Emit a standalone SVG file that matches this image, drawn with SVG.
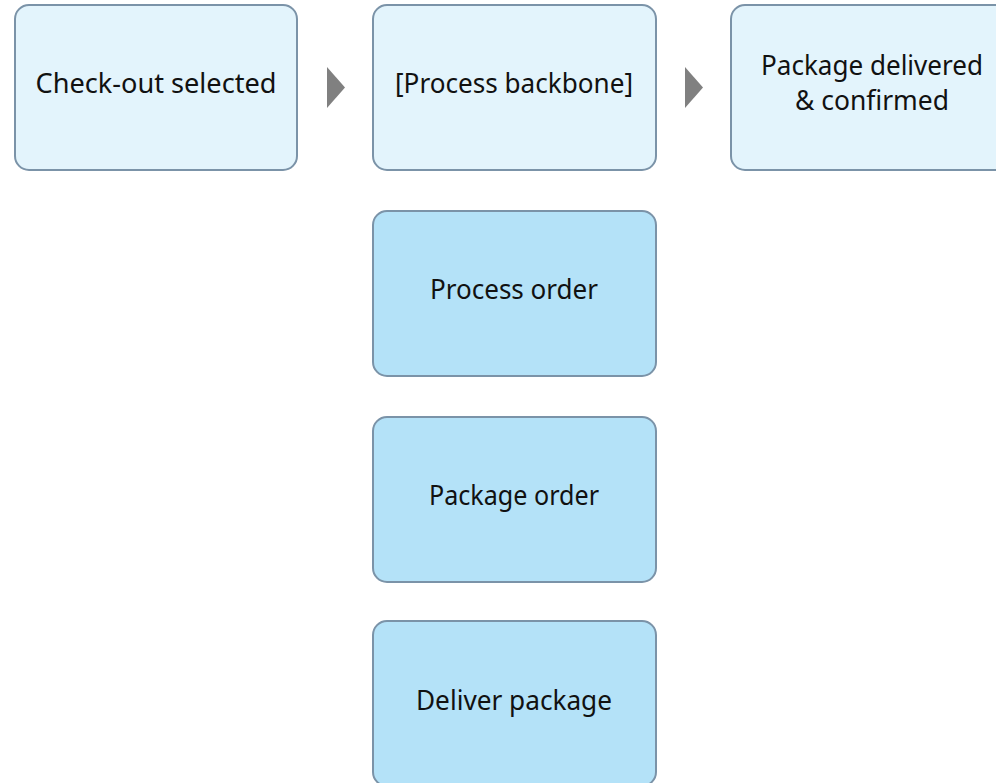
<svg xmlns="http://www.w3.org/2000/svg" width="996" height="783" viewBox="0 0 996 783">
<style>
.box{stroke:#7b93a8;stroke-width:2}
.top{fill:#e3f4fc}
.sub{fill:#b4e2f8}
.lbl{font-family:"Noto Sans","Open Sans",sans-serif;font-size:28px;fill:#111;text-anchor:middle}
.arr{fill:#808080}
</style>
<rect width="996" height="783" fill="#ffffff"/>
<g id="connectors">
<polygon class="arr" points="327,67 345,87.5 327,108"/>
<polygon class="arr" points="685,67 703,87.5 685,108"/>
</g>
<g id="checkout">
<rect class="box top" x="15" y="5" width="282" height="165" rx="14"/>
<text class="lbl" x="156" y="93" textLength="241" lengthAdjust="spacingAndGlyphs">Check-out selected</text>
</g>
<g id="backbone">
<rect class="box top" x="373" y="5" width="283" height="165" rx="14"/>
<text class="lbl" x="514" y="93" textLength="238" lengthAdjust="spacingAndGlyphs">[Process backbone]</text>
</g>
<g id="delivered">
<rect class="box top" x="731" y="5" width="283" height="165" rx="14"/>
<text class="lbl" x="872" y="75" textLength="222" lengthAdjust="spacingAndGlyphs">Package delivered</text>
<text class="lbl" x="872" y="110" textLength="154" lengthAdjust="spacingAndGlyphs">&amp; confirmed</text>
</g>
<g id="process-order">
<rect class="box sub" x="373" y="211" width="283" height="165" rx="14"/>
<text class="lbl" x="514" y="299" textLength="168" lengthAdjust="spacingAndGlyphs">Process order</text>
</g>
<g id="package-order">
<rect class="box sub" x="373" y="417" width="283" height="165" rx="14"/>
<text class="lbl" x="514" y="505" textLength="170" lengthAdjust="spacingAndGlyphs">Package order</text>
</g>
<g id="deliver-package">
<rect class="box sub" x="373" y="621" width="283" height="165" rx="14"/>
<text class="lbl" x="514" y="710" textLength="196" lengthAdjust="spacingAndGlyphs">Deliver package</text>
</g>
</svg>
